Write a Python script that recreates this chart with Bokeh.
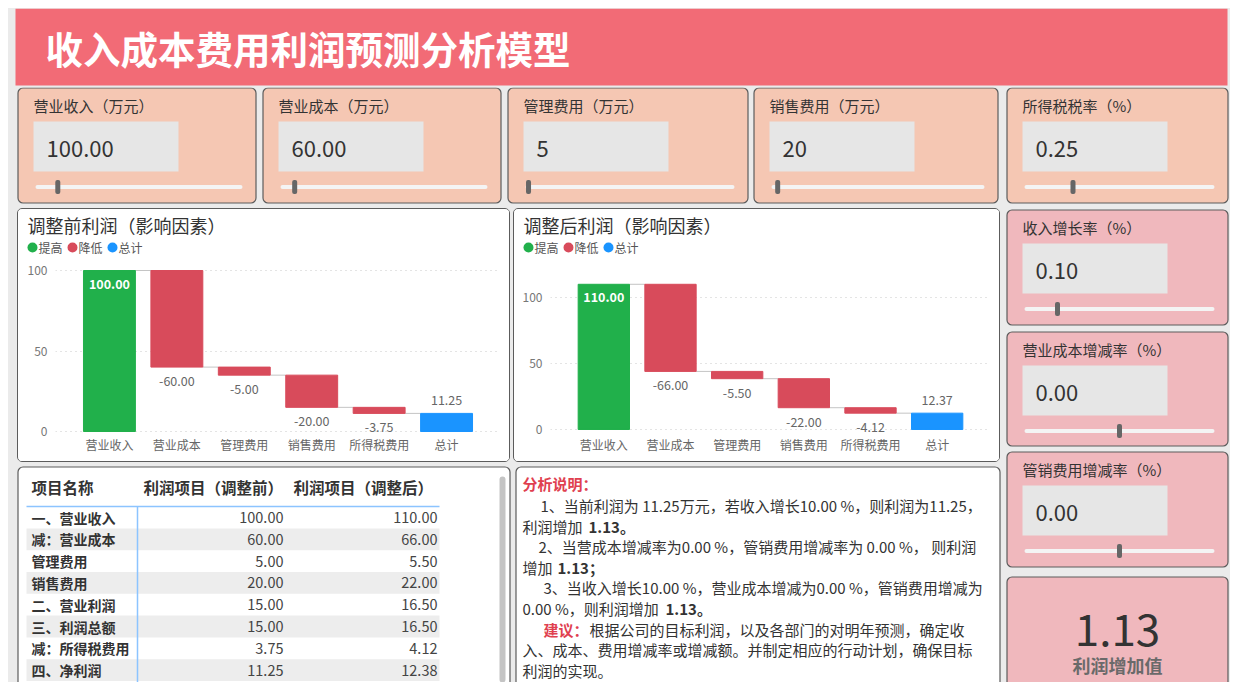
from bokeh.plotting import figure
from bokeh.layouts import column, row
from bokeh.models import Range1d, FactorRange, FixedTicker, Spacer, ColumnDataSource
from bokeh.core.properties import value
from bokeh.embed import file_html
from bokeh.resources import INLINE

FONT = "Noto Sans CJK SC"

# ---------------- data ----------------
title_text = "收入成本费用利润预测分析模型"

input_labels = ["营业收入（万元）", "营业成本（万元）", "管理费用（万元）", "销售费用（万元）"]
input_texts = ["100.00", "60.00", "5", "20"]
input_values = [100.0, 60.0, 5.0, 20.0]
input_min = [0, 0, 0, 0]
input_max = [1000, 1000, 1000, 1000]

tax_label = "所得税税率（%）"
tax_text = "0.25"
tax_value = 0.25
tax_min, tax_max = 0.0, 1.0

rate_labels = ["收入增长率（%）", "营业成本增减率（%）", "管销费用增减率（%）"]
rate_texts = ["0.10", "0.00", "0.00"]
rate_values = [0.10, 0.00, 0.00]
rate_min = [-0.1, -1.0, -1.0]
rate_max = [1.1, 1.0, 1.0]

result_value = 1.13
result_label = "利润增加值"

categories = ["营业收入", "营业成本", "管理费用", "销售费用", "所得税费用", "总计"]
before_changes = [100.00, -60.00, -5.00, -20.00, -3.75, 11.25]
after_changes = [110.00, -66.00, -5.50, -22.00, -4.12, 12.37]
legend_names = ["提高", "降低", "总计"]

table_headers = ["项目名称", "利润项目（调整前）", "利润项目（调整后）"]
table_items = ["一、营业收入", "减：营业成本", "管理费用", "销售费用",
               "二、营业利润", "三、利润总额", "减：所得税费用", "四、净利润"]
table_before = [100.00, 60.00, 5.00, 20.00, 15.00, 15.00, 3.75, 11.25]
table_after = [110.00, 66.00, 5.50, 22.00, 16.50, 16.50, 4.12, 12.38]

# ---------------- style ----------------
BG = "#ebebeb"
BAND = "#f26b76"
PEACH = "#f5c7b3"
PINK = "#f0b8bd"
EDGE = "#5c5c5c"
GREEN = "#21b04b"
RED = "#d84b5b"
BLUE = "#1a94ff"
legend_colors = [GREEN, RED, BLUE]


def no_align(p):
    if "frame_align" in p.properties():
        p.frame_align = False
    return p


def canvas(w, h, bg=BG):
    p = figure(width=w, height=h, x_range=Range1d(0, w), y_range=Range1d(h, 0),
               output_backend="svg", toolbar_location=None, min_border=0,
               x_axis_type=None, y_axis_type=None, outline_line_color=None,
               background_fill_color=bg, border_fill_color=bg)
    p.grid.visible = False
    return no_align(p)


def txt(p, x, y, s, size, color="#333333", bold=False, align="left"):
    p.text(x=[x], y=[y], text=[s], text_font=value(FONT), text_font_size=size,
           text_color=color, text_font_style="bold" if bold else "normal",
           text_align=align, text_baseline="middle")


def card(p, l, t, r, b, fill):
    p.quad(left=[l], right=[r], top=[t], bottom=[b], fill_color=fill,
           line_color=EDGE, line_width=1.2, border_radius=5)


def input_card(p, L, T, W, H, fill, label, vtext, v, vmin, vmax):
    card(p, L + 0.5, T + 0.5, L + W - 0.5, T + H - 0.5, fill)
    txt(p, L + 16, T + 18, label, "15px", "#333333")
    p.quad(left=[L + 16], right=[L + 161], top=[T + 34], bottom=[T + 84],
           fill_color="#e6e6e6", line_color=None)
    txt(p, L + 29, T + 61, vtext, "22px", "#333333")
    x0, x1 = L + 18, L + W - 14
    p.quad(left=[x0], right=[x1], top=[T + 97.5], bottom=[T + 101.5],
           fill_color="#f4f4f4", line_color=None, border_radius=2)
    frac = (v - vmin) / (vmax - vmin)
    hx = x0 + 2 + frac * (x1 - x0 - 4)
    p.quad(left=[hx - 2.5], right=[hx + 2.5], top=[T + 92.5], bottom=[T + 106.5],
           fill_color="#666666", line_color=None, border_radius=2)


# ---------------- title ----------------
top = canvas(1222, 79)
top.quad(left=[7], right=[1219], top=[0], bottom=[77], fill_color=BAND, line_color=None)
txt(top, 37, 39, title_text, "37.5px", "#ffffff", bold=True)

# ---------------- input cards ----------------
cards = canvas(997, 120)
card_lefts = [9, 254, 499, 745]
card_widths = [239, 239, 241, 245]
for i in range(len(input_labels)):
    input_card(cards, card_lefts[i], 0, card_widths[i], 116, PEACH, input_labels[i],
               input_texts[i], input_values[i], input_min[i], input_max[i])

# ---------------- right column ----------------
right = canvas(225, 595)
input_card(right, 1, 0, 222, 116, PEACH, tax_label, tax_text, tax_value, tax_min, tax_max)
rate_tops = [122, 244, 364]
rate_heights = [116, 115, 116]
for i in range(len(rate_labels)):
    input_card(right, 1, rate_tops[i], 222, rate_heights[i], PINK, rate_labels[i],
               rate_texts[i], rate_values[i], rate_min[i], rate_max[i])
card(right, 1.5, 489.5, 222.5, 640, PINK)
txt(right, 112, 542, f"{result_value:.2f}", "44px", "#333333", align="center")
txt(right, 112, 577, result_label, "18px", "#6a6a6a", bold=True, align="center")


# ---------------- waterfall charts ----------------
def header(w, title):
    h = canvas(w, 48, bg="#ffffff")
    txt(h, 9, 15, title, "18px", "#333333")
    for k, (nm, col) in enumerate(zip(legend_names, legend_colors)):
        cx = 14 + 40 * k
        h.scatter(x=[cx], y=[38], size=10, fill_color=col, line_color=None)
        txt(h, cx + 6, 38, nm, "12px", "#555555")
    return h


def waterfall(changes, w, left, ystart, yend):
    n = len(changes)
    bottoms, tops, colors = [], [], []
    lab_y, lab_off, lab_col, lab_style, lab_txt = [], [], [], [], []
    seg_x0, seg_x1, seg_y = [], [], []
    run = 0.0
    bw = 0.77
    for i, v in enumerate(changes):
        if i == n - 1:
            b, t, c = 0.0, v, BLUE
            lab_y.append(t); lab_off.append(-13); lab_col.append("#666666"); lab_style.append("normal")
        elif v >= 0:
            b, t, c = run, run + v, GREEN
            run += v
            lab_y.append(t); lab_off.append(13); lab_col.append("#ffffff"); lab_style.append("bold")
        else:
            b, t, c = run + v, run, RED
            run += v
            lab_y.append(b); lab_off.append(14); lab_col.append("#666666"); lab_style.append("normal")
        bottoms.append(b); tops.append(t); colors.append(c)
        lab_txt.append(f"{v:.2f}")
        if i < n - 1:
            seg_x0.append(i + 0.5 + bw / 2)
            seg_x1.append(i + 1.5 - bw / 2)
            seg_y.append(run)

    p = figure(width=w, height=204,
               x_range=FactorRange(factors=categories, range_padding=0.3, range_padding_units="absolute"),
               y_range=Range1d(ystart, yend), output_backend="svg", toolbar_location=None,
               min_border_left=left, min_border_right=9, min_border_top=5, min_border_bottom=28,
               outline_line_color=None, background_fill_color="#ffffff", border_fill_color="#ffffff")
    no_align(p)
    src = ColumnDataSource(dict(x=categories, top=tops, bottom=bottoms, color=colors,
                                ly=lab_y, loff=lab_off, lcol=lab_col, lsty=lab_style, ltxt=lab_txt))
    p.segment(x0=seg_x0, x1=seg_x1, y0=seg_y, y1=seg_y, line_color="#c4c4c4", line_width=1)
    p.vbar(x="x", top="top", bottom="bottom", width=bw, fill_color="color", line_color="color",
           source=src)
    p.text(x="x", y="ly", text="ltxt", y_offset="loff", text_color="lcol", text_font_style="lsty",
           text_font=value(FONT), text_font_size="12.5px", text_align="center",
           text_baseline="middle", source=src)

    ticks = FixedTicker(ticks=[0, 50, 100])
    p.yaxis.ticker = ticks
    p.ygrid.ticker = ticks
    p.ygrid.grid_line_color = "#c8c8c8"
    p.ygrid.grid_line_dash = "1 4"
    p.xgrid.grid_line_color = None
    for ax in (p.xaxis, p.yaxis):
        ax.axis_line_color = None
        ax.major_tick_line_color = None
        ax.minor_tick_line_color = None
        ax.major_tick_out = 0
        ax.major_tick_in = 0
        ax.major_label_text_font = FONT
        ax.major_label_text_font_size = "12px"
    p.yaxis.major_label_text_color = "#777777"
    p.yaxis.major_label_standoff = 8
    p.xaxis.major_label_text_color = "#666666"
    p.xaxis.major_label_standoff = 2
    return p


card_css = {"border": "1px solid #5c5c5c", "border-radius": "5px",
            "background-color": "#ffffff", "overflow": "hidden"}

chart1 = column(header(491, "调整前利润（影响因素）"),
                waterfall(before_changes, 491, 37, -1.24, 104.97), styles=card_css)
chart2 = column(header(485, "调整后利润（影响因素）"),
                waterfall(after_changes, 485, 36, -3.03, 126.5), styles=card_css)

charts_row = column(Spacer(width=997, height=1),
                    row(Spacer(width=9, height=254), chart1, Spacer(width=3, height=254),
                        chart2, Spacer(width=5, height=254)),
                    Spacer(width=997, height=1))

# ---------------- bottom: table + analysis ----------------
bot = canvas(997, 219)
card(bot, 9.5, 3.5, 501.5, 240, "#ffffff")
card(bot, 507.5, 3.5, 991.5, 240, "#ffffff")

# table
hx = [23, 135, 285]
for k, h in enumerate(table_headers):
    txt(bot, hx[k], 23, h, "15.5px", "#333333", bold=True)
row_h = 21.8
y0 = 54
for i in range(len(table_items)):
    yc = y0 + row_h * i
    if i % 2 == 1:
        bot.quad(left=[18], right=[431], top=[yc - row_h / 2], bottom=[yc + row_h / 2],
                 fill_color="#ededed", line_color=None)
bot.segment(x0=[18], x1=[431], y0=[43], y1=[43], line_color="#8cc4ff", line_width=1.5)
bot.segment(x0=[129], x1=[129], y0=[43], y1=[219], line_color="#8cc4ff", line_width=1.5)
tsrc = ColumnDataSource(dict(
    y=[y0 + row_h * i for i in range(len(table_items))],
    name=table_items,
    b=[f"{v:.2f}" for v in table_before],
    a=[f"{v:.2f}" for v in table_after]))
bot.text(x=23, y="y", text="name", source=tsrc, text_font=value(FONT), text_font_size="14px",
         text_color="#333333", text_font_style="bold", text_baseline="middle")
bot.text(x=275, y="y", text="b", source=tsrc, text_font=value(FONT), text_font_size="14.5px",
         text_color="#444444", text_align="right", text_baseline="middle")
bot.text(x=429, y="y", text="a", source=tsrc, text_font=value(FONT), text_font_size="14.5px",
         text_color="#444444", text_align="right", text_baseline="middle")
bot.quad(left=[491], right=[497], top=[13], bottom=[219], fill_color="#c4c4c4",
         line_color=None, border_radius=3)

# analysis text
inc = f"{result_value:.2f}"
profit = f"{before_changes[-1]:.2f}"
grow = f"{rate_values[0] * 100:.2f} %"
cost = f"{rate_values[1] * 100:.2f} %"
mgmt = f"{rate_values[2] * 100:.2f} %"
TS = "15px"
TC = "#333333"
RC = "#e0404f"
txt(bot, 514, 20, "分析说明：", TS, RC, bold=True)
ly = [42 + 20.6 * k for k in range(9)]
txt(bot, 532, ly[0], f"1、当前利润为 {profit}万元，若收入增长{grow}，则利润为{profit}，", TS, TC)
txt(bot, 514, ly[1], "利润增加", TS, TC)
txt(bot, 580, ly[1], f"{inc}。", TS, TC, bold=True)
txt(bot, 530, ly[2], f"2、当营成本增减率为{cost}，管销费用增减率为 {mgmt}，  则利润", TS, TC)
txt(bot, 514, ly[3], "增加", TS, TC)
txt(bot, 549, ly[3], f"{inc}；", TS, TC, bold=True)
txt(bot, 535, ly[4], f"3、当收入增长{grow}，营业成本增减为{cost}，管销费用增减为", TS, TC)
txt(bot, 514, ly[5], f"{mgmt}，则利润增加", TS, TC)
txt(bot, 657, ly[5], f"{inc}。", TS, TC, bold=True)
txt(bot, 535, ly[6], "建议：", TS, RC, bold=True)
txt(bot, 581, ly[6], "根据公司的目标利润，以及各部门的对明年预测，确定收", TS, TC)
txt(bot, 514, ly[7], "入、成本、费用增减率或增减额。并制定相应的行动计划，确保目标", TS, TC)
txt(bot, 514, ly[8], "利润的实现。", TS, TC)

# ---------------- assemble ----------------
left_col = column(cards, charts_row, bot)
content = column(top, row(left_col, right), styles={"background-color": BG})
root = column(Spacer(width=1230, height=8), row(Spacer(width=8, height=674), content))

open("out.html", "w").write(file_html(root, INLINE, "收入成本费用利润预测分析模型"))
